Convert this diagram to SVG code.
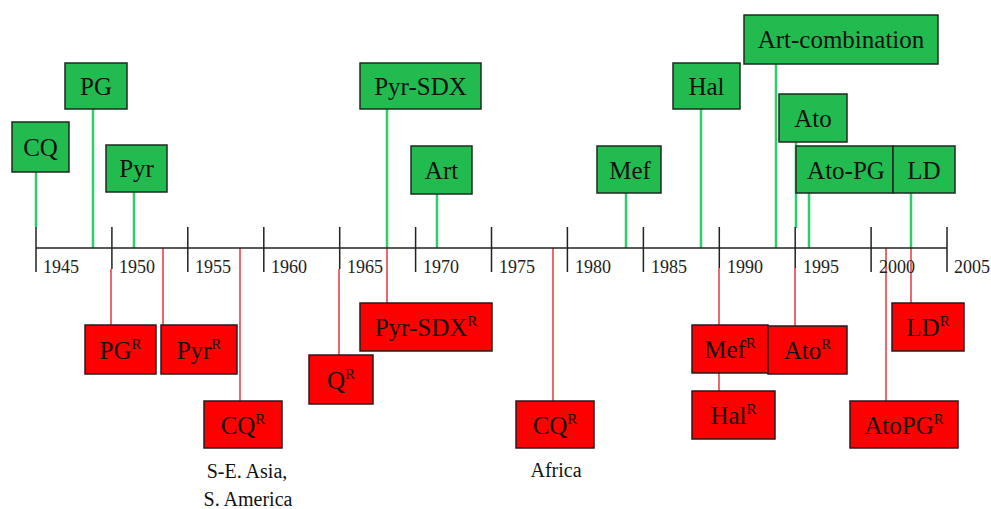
<svg xmlns="http://www.w3.org/2000/svg" width="991" height="509" viewBox="0 0 991 509" font-family="Liberation Serif">
<style>
text{font-family:'Liberation Serif','Times New Roman',serif;fill:#111}
.g{fill:#22bb50;stroke:#1e2a20;stroke-width:1.5}
.r{fill:#ff0000;stroke:#2a1a1a;stroke-width:1.5}
.lbl{font-size:25px;text-anchor:middle}
.sup{font-size:15px}
.yr{font-size:18px;fill:#222}
.note{font-size:20px;text-anchor:middle}
.gl{stroke:#2fcc6a;stroke-width:2.5;fill:none}
.rl{stroke:#e8353b;stroke-width:1.5;fill:none}
.ax{stroke:#222;stroke-width:1.5;fill:none}
</style>
<rect width="991" height="509" fill="#ffffff"/>
<g id="connectors">
<line class="gl" x1="36" y1="172" x2="36" y2="227"/>
<line class="gl" x1="93" y1="109" x2="93" y2="248"/>
<line class="gl" x1="134" y1="192" x2="134" y2="248"/>
<line class="gl" x1="387" y1="109" x2="387" y2="248"/>
<line class="gl" x1="437" y1="194" x2="437" y2="248"/>
<line class="gl" x1="626" y1="193" x2="626" y2="248"/>
<line class="gl" x1="701" y1="109" x2="701" y2="248"/>
<line class="gl" x1="776" y1="64" x2="776" y2="248"/>
<line class="gl" x1="796" y1="142" x2="796" y2="228"/>
<line class="gl" x1="809" y1="193" x2="809" y2="248"/>
<line class="gl" x1="911" y1="193" x2="911" y2="248"/>
<line class="rl" x1="111" y1="269" x2="111" y2="325"/>
<line class="rl" x1="163" y1="248" x2="163" y2="325"/>
<line class="rl" x1="240" y1="248" x2="240" y2="401"/>
<line class="rl" x1="339" y1="269" x2="339" y2="355"/>
<line class="rl" x1="387" y1="248" x2="387" y2="303"/>
<line class="rl" x1="553" y1="248" x2="553" y2="401"/>
<line class="rl" x1="719" y1="268" x2="719" y2="325"/>
<line class="rl" x1="719" y1="373" x2="719" y2="391"/>
<line class="rl" x1="795" y1="268" x2="795" y2="326"/>
<line class="rl" x1="886" y1="248" x2="886" y2="401"/>
<line class="rl" x1="911" y1="248" x2="911" y2="303"/>
</g>
<g id="axis">
<line class="ax" x1="36" y1="248" x2="947" y2="248"/>
<path class="ax" d="M36 227V272M111.9 227V269M187.8 227V272M263.8 227V272M339.7 227V269M415.6 227V272M491.5 227V272M567.4 227V272M643.4 227V272M719.3 227V268M795.2 227V268M871.1 227V272M947 227V272"/>
<text class="yr" x="43" y="273">1945</text>
<text class="yr" x="119" y="273">1950</text>
<text class="yr" x="195" y="273">1955</text>
<text class="yr" x="271" y="273">1960</text>
<text class="yr" x="347" y="273">1965</text>
<text class="yr" x="423" y="273">1970</text>
<text class="yr" x="499" y="273">1975</text>
<text class="yr" x="575" y="273">1980</text>
<text class="yr" x="651" y="273">1985</text>
<text class="yr" x="727" y="273">1990</text>
<text class="yr" x="803" y="273">1995</text>
<text class="yr" x="879" y="273">2000</text>
<text class="yr" x="954" y="273">2005</text>
</g>
<g id="n-CQ"><rect class="g" x="12" y="122" width="57" height="50"/><text class="lbl" x="40.5" y="156">CQ</text></g>
<g id="n-PG"><rect class="g" x="65" y="63" width="62" height="46"/><text class="lbl" x="96" y="95">PG</text></g>
<g id="n-Pyr"><rect class="g" x="106" y="145" width="61" height="47"/><text class="lbl" x="136.5" y="177">Pyr</text></g>
<g id="n-PyrSDX"><rect class="g" x="360" y="63" width="121" height="46"/><text class="lbl" x="420.5" y="95">Pyr-SDX</text></g>
<g id="n-Art"><rect class="g" x="411" y="146" width="61" height="48"/><text class="lbl" x="441.5" y="179">Art</text></g>
<g id="n-Mef"><rect class="g" x="597" y="146" width="64" height="47"/><text class="lbl" x="630" y="179">Mef</text></g>
<g id="n-Hal"><rect class="g" x="673" y="63" width="67" height="46"/><text class="lbl" x="706.5" y="95">Hal</text></g>
<g id="n-ArtComb"><rect class="g" x="744" y="15" width="194" height="49"/><text class="lbl" x="841" y="48">Art-combination</text></g>
<g id="n-Ato"><rect class="g" x="779" y="94" width="68" height="48"/><text class="lbl" x="813" y="127">Ato</text></g>
<g id="n-AtoPG"><rect class="g" x="796" y="146" width="97" height="47"/><text class="lbl" x="846" y="179">Ato-PG</text></g>
<g id="n-LD"><rect class="g" x="893" y="146" width="62" height="47"/><text class="lbl" x="924" y="179">LD</text></g>
<g id="n-PGR"><rect class="r" x="85" y="325" width="71" height="49"/><text class="lbl" x="120.5" y="359">PG<tspan class="sup" dy="-10">R</tspan></text></g>
<g id="n-PyrR"><rect class="r" x="161" y="325" width="76" height="49"/><text class="lbl" x="199" y="359">Pyr<tspan class="sup" dy="-10">R</tspan></text></g>
<g id="n-CQR1"><rect class="r" x="204" y="401" width="78" height="47"/><text class="lbl" x="243" y="434">CQ<tspan class="sup" dy="-10">R</tspan></text><text class="note" x="247" y="478">S-E. Asia,</text><text class="note" x="248" y="506">S. America</text></g>
<g id="n-QR"><rect class="r" x="309" y="355" width="64" height="49"/><text class="lbl" x="341" y="389">Q<tspan class="sup" dy="-10">R</tspan></text></g>
<g id="n-PyrSDXR"><rect class="r" x="360" y="303" width="132" height="48"/><text class="lbl" x="426" y="336">Pyr-SDX<tspan class="sup" dy="-10">R</tspan></text></g>
<g id="n-CQR2"><rect class="r" x="516" y="401" width="78" height="47"/><text class="lbl" x="555" y="434">CQ<tspan class="sup" dy="-10">R</tspan></text><text class="note" x="556" y="477">Africa</text></g>
<g id="n-MefR"><rect class="r" x="692" y="325" width="76" height="48"/><text class="lbl" x="730" y="358">Mef<tspan class="sup" dy="-10">R</tspan></text></g>
<g id="n-AtoR"><rect class="r" x="768" y="326" width="79" height="48"/><text class="lbl" x="807.5" y="359">Ato<tspan class="sup" dy="-10">R</tspan></text></g>
<g id="n-HalR"><rect class="r" x="692" y="391" width="83" height="48"/><text class="lbl" x="733.5" y="424">Hal<tspan class="sup" dy="-10">R</tspan></text></g>
<g id="n-LDR"><rect class="r" x="892" y="303" width="72" height="48"/><text class="lbl" x="928" y="336">LD<tspan class="sup" dy="-10">R</tspan></text></g>
<g id="n-AtoPGR"><rect class="r" x="850" y="401" width="108" height="47"/><text class="lbl" x="904" y="434">AtoPG<tspan class="sup" dy="-10">R</tspan></text></g>
</svg>
